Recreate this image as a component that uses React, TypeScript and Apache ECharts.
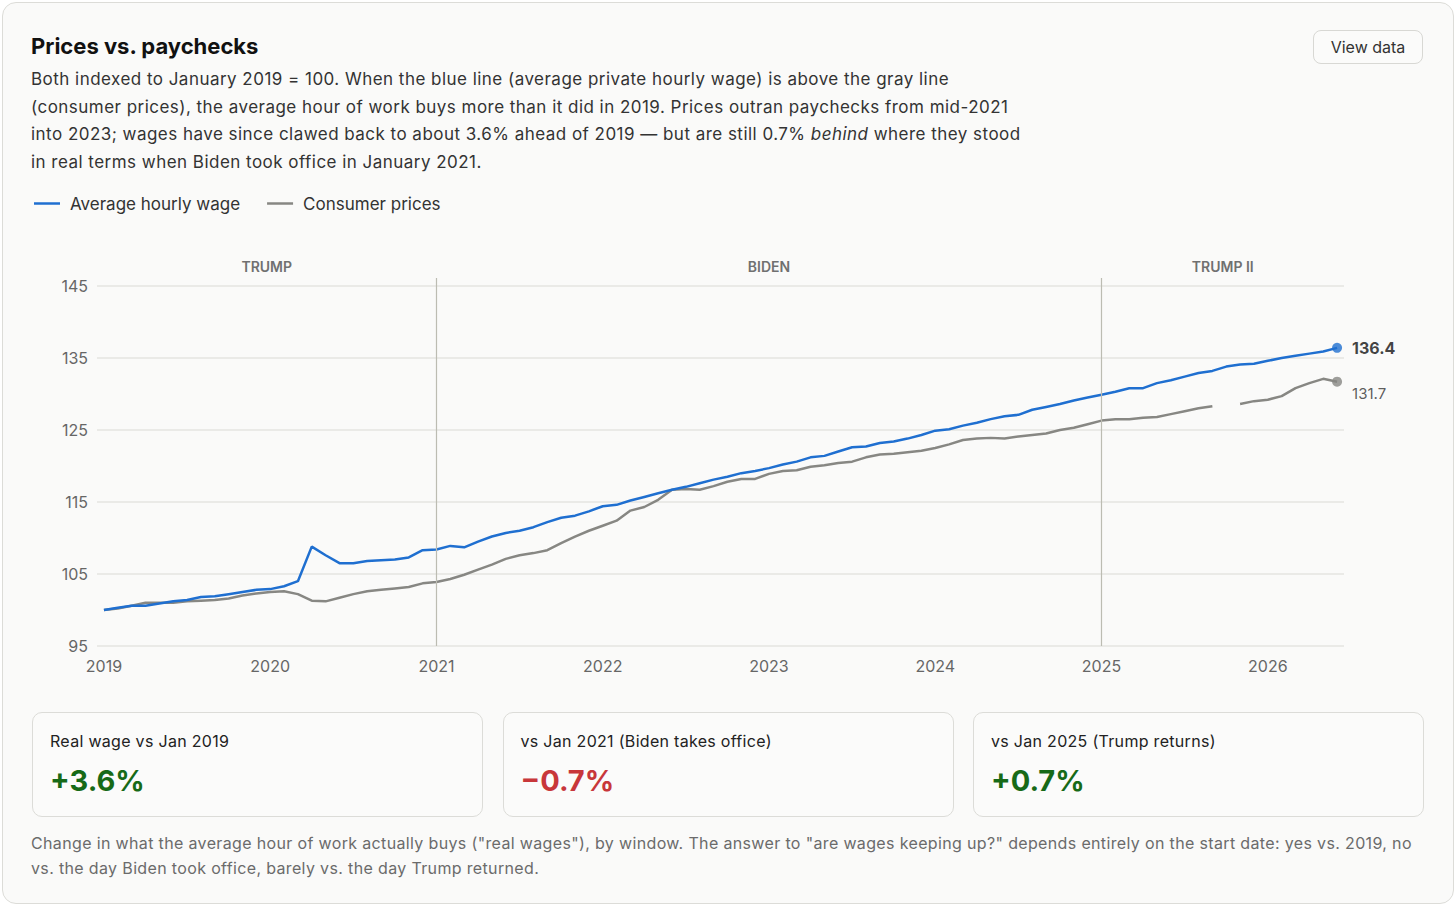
import React, { useEffect, useRef } from "react";
import * as echarts from "echarts";

const yearLabels = ["2019", "2020", "2021", "2022", "2023", "2024", "2025", "2026"];
const yTicks = [95, 105, 115, 125, 135, 145];

const wageName = "Average hourly wage";
const priceName = "Consumer prices";

// Monthly index values, Jan 2019 = 100 (month 0) through Jun 2026 (month 89)
const wage = [
  100.0, 100.3, 100.6, 100.6, 100.9, 101.2, 101.4, 101.8, 101.9, 102.2,
  102.5, 102.8, 102.9, 103.3, 104.0, 108.8, 107.6, 106.5, 106.5, 106.8,
  106.9, 107.0, 107.3, 108.3, 108.4, 108.9, 108.7, 109.5, 110.2, 110.7,
  111.0, 111.5, 112.2, 112.8, 113.1, 113.7, 114.4, 114.6, 115.2, 115.7,
  116.2, 116.7, 117.1, 117.6, 118.1, 118.5, 119.0, 119.3, 119.7, 120.2,
  120.6, 121.2, 121.4, 122.0, 122.6, 122.7, 123.2, 123.4, 123.8, 124.3,
  124.9, 125.1, 125.6, 126.0, 126.5, 126.9, 127.1, 127.8, 128.2, 128.6,
  129.1, 129.5, 129.9, 130.3, 130.8, 130.8, 131.5, 131.9, 132.4, 132.9,
  133.2, 133.8, 134.1, 134.2, 134.6, 135.0, 135.3, 135.6, 135.9, 136.4,
];

const prices = [
  100.0, 100.2, 100.6, 101.0, 101.0, 101.0, 101.2, 101.3, 101.4, 101.6,
  102.0, 102.3, 102.5, 102.6, 102.2, 101.3, 101.2, 101.7, 102.2, 102.6,
  102.8, 103.0, 103.2, 103.7, 103.9, 104.3, 104.9, 105.6, 106.3, 107.1,
  107.6, 107.9, 108.3, 109.3, 110.2, 111.0, 111.7, 112.4, 113.8, 114.3,
  115.3, 116.7, 116.8, 116.7, 117.2, 117.8, 118.2, 118.2, 118.9, 119.3,
  119.4, 119.9, 120.1, 120.4, 120.6, 121.2, 121.6, 121.7, 121.9, 122.1,
  122.5, 123.0, 123.6, 123.8, 123.9, 123.8, 124.1, 124.3, 124.5, 125.0,
  125.3, 125.8, 126.3, 126.5, 126.5, 126.7, 126.8, 127.2, 127.6, 128.0,
  128.3, null, 128.6, 129.0, 129.2, 129.7, 130.8, 131.5, 132.1, 131.7,
];

const periodNames = ["TRUMP", "BIDEN", "TRUMP II"];
const periodBounds = [-0.5, 24, 72, 89.5];
const inaugurationMonths = [24, 72];

const statLabels = ["Real wage vs Jan 2019", "vs Jan 2021 (Biden takes office)", "vs Jan 2025 (Trump returns)"];
const statValues = ["+3.6%", "\u22120.7%", "+0.7%"];
const statColors = ["#176a17", "#c8373a", "#176a17"];

const BLUE = "#1f6fd0";
const GRAY = "#878783";
const FONT = "Inter, 'Noto Sans', sans-serif";

function Chart() {
  const ref = useRef<HTMLDivElement | null>(null);
  useEffect(() => {
    if (!ref.current) return;
    const chart = echarts.init(ref.current, undefined, { renderer: "svg" });
    const last = wage.length - 1;
    chart.setOption({
      animation: false,
      textStyle: { fontFamily: FONT },
      legend: {
        data: [wageName, priceName],
        left: 34,
        top: 15,
        padding: 0,
        icon: "rect",
        itemWidth: 26,
        itemHeight: 2.5,
        itemGap: 27,
        textStyle: { fontSize: 17, color: "#333", fontFamily: FONT, padding: [0, 0, 0, 5] },
        selectedMode: false,
      },
      grid: { left: 97, right: 112, top: 98, bottom: 54 },
      xAxis: {
        type: "value",
        min: -0.5,
        max: 89.5,
        axisLine: { show: false },
        axisTick: { show: false },
        splitLine: { show: false },
        axisLabel: {
          customValues: yearLabels.map((_, i) => i * 12),
          formatter: (v: number) => yearLabels[Math.round(v / 12)] ?? "",
          fontSize: 16,
          color: "#666",
          margin: 12,
          fontFamily: FONT,
        },
      },
      yAxis: {
        type: "value",
        min: 95,
        max: 146.1,
        axisLine: { show: false },
        axisTick: { show: false, customValues: yTicks },
        axisLabel: { customValues: yTicks, fontSize: 16, color: "#666", margin: 9, fontFamily: FONT },
        splitLine: { show: true, lineStyle: { color: "#e4e4e0", width: 1.5 } },
      },
      series: [
        {
          name: wageName,
          type: "line",
          data: wage.map((v, i) => [i, v]),
          symbol: "none",
          lineStyle: { color: BLUE, width: 2.5 },
          itemStyle: { color: BLUE },
          z: 4,
          markLine: {
            silent: true,
            symbol: ["none", "none"],
            label: { show: false },
            lineStyle: { color: "#bcbcb2", width: 1.2, type: "solid" },
            data: inaugurationMonths.map((m) => ({ xAxis: m })),
          },
          markArea: {
            silent: true,
            itemStyle: { color: "rgba(0,0,0,0)" },
            label: {
              show: true,
              position: "top",
              distance: 5,
              fontSize: 14,
              fontWeight: 600,
              color: "#707070",
              fontFamily: FONT,
            },
            data: periodNames.map((name, i) => [
              { name, xAxis: periodBounds[i] },
              { xAxis: periodBounds[i + 1] },
            ]),
          },
        },
        {
          name: priceName,
          type: "line",
          data: prices.map((v, i) => [i, v === null ? "-" : v]),
          symbol: "none",
          connectNulls: false,
          lineStyle: { color: GRAY, width: 2.5 },
          itemStyle: { color: GRAY },
          z: 3,
        },
        {
          name: "wage-end",
          type: "scatter",
          data: [[last, wage[last]]],
          symbolSize: 10,
          itemStyle: { color: BLUE },
          z: 6,
          label: {
            show: true,
            position: "right",
            distance: 10,
            formatter: (p: any) => Number(p.value[1]).toFixed(1),
            fontSize: 16,
            fontWeight: "bold",
            color: "#111",
            fontFamily: FONT,
          },
        },
        {
          name: "price-end",
          type: "scatter",
          data: [[last, prices[last]]],
          symbolSize: 10,
          itemStyle: { color: GRAY },
          z: 6,
          label: {
            show: true,
            position: "right",
            distance: 10,
            offset: [0, 12],
            formatter: (p: any) => Number(p.value[1]).toFixed(1),
            fontSize: 15,
            color: "#333",
            fontFamily: FONT,
          },
        },
      ],
    });
    return () => chart.dispose();
  }, []);
  return <div ref={ref} style={{ position: "absolute", left: 0, top: 180, width: 1456, height: 520 }} />;
}

export default function App() {
  const line: React.CSSProperties = { whiteSpace: "nowrap" };
  return (
    <div
      style={{
        position: "fixed",
        left: 0,
        top: 0,
        width: 1456,
        height: 906,
        background: "#ffffff",
        fontFamily: FONT,
        overflow: "hidden",
      }}
    >
      <div
        style={{
          position: "absolute",
          left: 2,
          top: 2,
          width: 1450,
          height: 900,
          border: "1px solid #dcdcd8",
          borderRadius: 14,
          background: "#fafaf9",
        }}
      />
      <div
        style={{
          position: "absolute",
          left: 31,
          top: 31,
          fontSize: 22,
          fontWeight: 700,
          color: "#111",
          lineHeight: "30px",
        }}
      >
        Prices vs. paychecks
      </div>
      <div
        style={{
          position: "absolute",
          left: 1313,
          top: 30,
          width: 110,
          height: 34,
          border: "1px solid #d8d8d4",
          borderRadius: 8,
          background: "#fbfbfa",
          fontSize: 16,
          color: "#333",
          display: "flex",
          alignItems: "center",
          justifyContent: "center",
          boxSizing: "border-box",
        }}
      >
        View data
      </div>
      <div
        style={{
          position: "absolute",
          left: 31,
          top: 66,
          fontSize: 17,
          lineHeight: "27.5px",
          letterSpacing: "0.47px",
          color: "#333",
        }}
      >
        <div style={line}>
          Both indexed to January 2019 = 100. When the blue line (average private hourly wage) is above the gray line
        </div>
        <div style={line}>
          (consumer prices), the average hour of work buys more than it did in 2019. Prices outran paychecks from mid-2021
        </div>
        <div style={line}>
          into 2023; wages have since clawed back to about 3.6% ahead of 2019 — but are still 0.7% <i>behind</i> where they stood
        </div>
        <div style={line}>in real terms when Biden took office in January 2021.</div>
      </div>
      <Chart />
      {statLabels.map((label, i) => (
        <div
          key={label}
          style={{
            position: "absolute",
            left: 32 + i * 470.5,
            top: 712,
            width: 451,
            height: 105,
            boxSizing: "border-box",
            border: "1px solid #dcdcd8",
            borderRadius: 10,
            background: "#fbfbfa",
          }}
        >
          <div
            style={{
              position: "absolute",
              left: 17,
              top: 17,
              fontSize: 16,
              color: "#222",
              lineHeight: "22px",
              letterSpacing: "0.3px",
              whiteSpace: "nowrap",
            }}
          >
            {label}
          </div>
          <div
            style={{
              position: "absolute",
              left: 17,
              top: 49,
              fontSize: 29,
              fontWeight: 700,
              color: statColors[i],
              lineHeight: "38px",
            }}
          >
            {statValues[i]}
          </div>
        </div>
      ))}
      <div
        style={{
          position: "absolute",
          left: 31,
          top: 831,
          fontSize: 16,
          lineHeight: "24.5px",
          letterSpacing: "0.35px",
          color: "#6b6b6b",
        }}
      >
        <div style={line}>
          Change in what the average hour of work actually buys ("real wages"), by window. The answer to "are wages keeping up?" depends entirely on the start date: yes vs. 2019, no
        </div>
        <div style={line}>vs. the day Biden took office, barely vs. the day Trump returned.</div>
      </div>
    </div>
  );
}
